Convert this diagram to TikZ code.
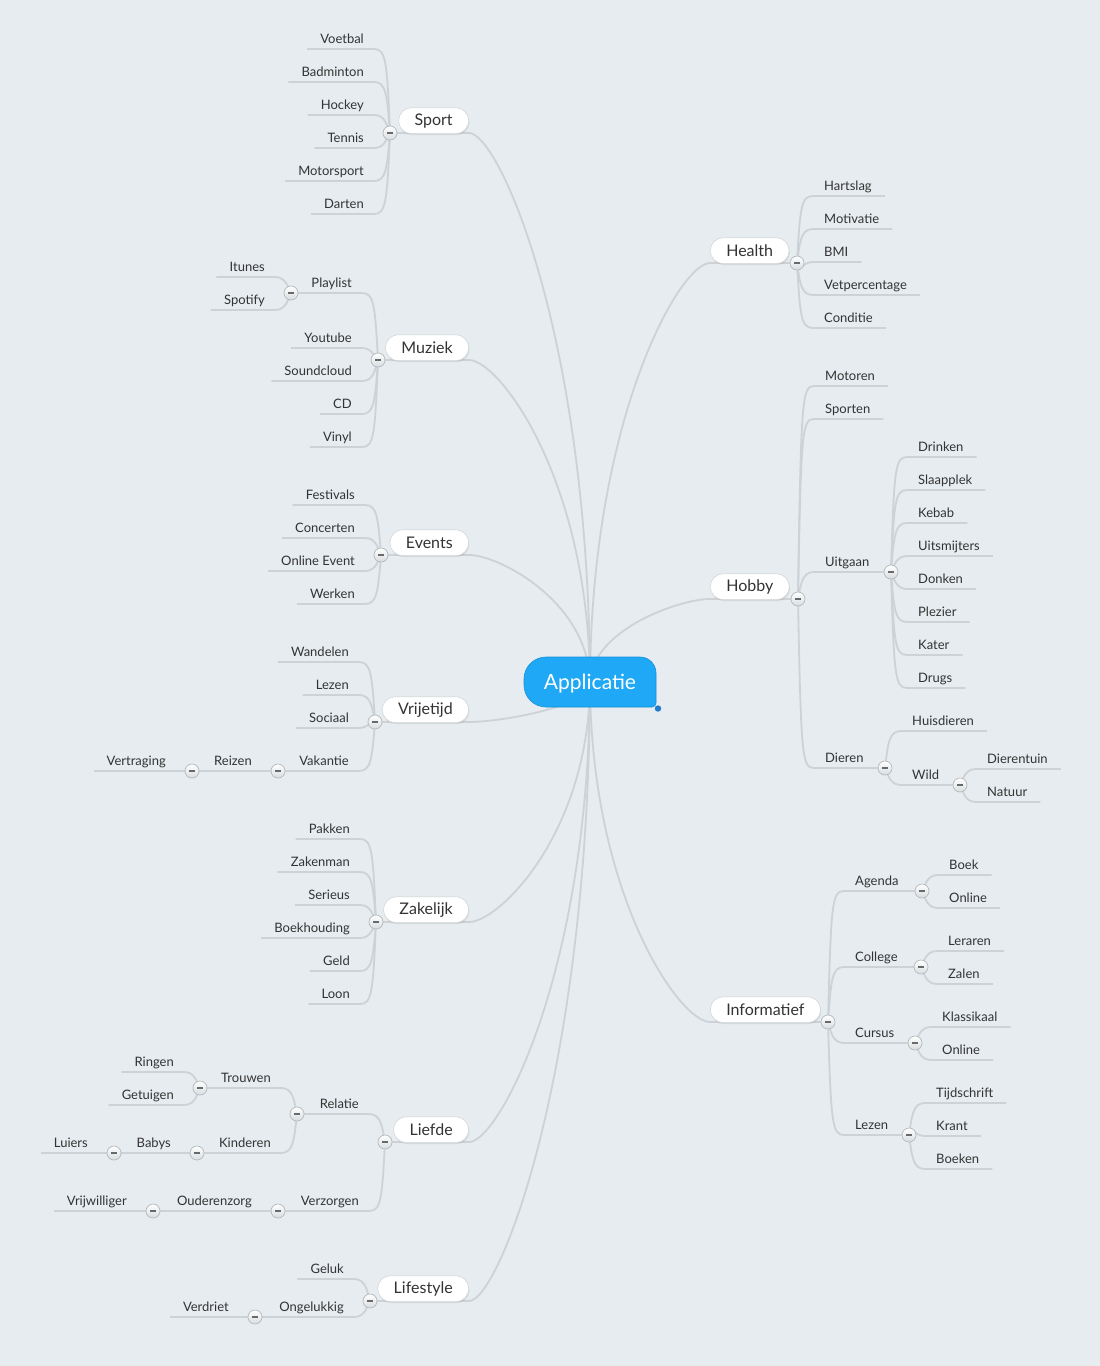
\documentclass[tikz,border=0pt]{standalone}
\usepackage{fontspec}
\setmainfont{Lato}
\usetikzlibrary{shadows}
\definecolor{bgc}{HTML}{E6ECF0}
\definecolor{linec}{HTML}{CDD2D6}
\definecolor{textc}{HTML}{333333}
\definecolor{pillb}{HTML}{D3D8DB}
\definecolor{togb}{HTML}{B4B9BD}
\definecolor{togbot}{HTML}{D8DCDF}
\definecolor{minusc}{HTML}{666A6D}
\definecolor{appblue}{HTML}{1EA8F5}
\definecolor{appedge}{HTML}{1B8FD6}
\definecolor{dotblue}{HTML}{1F7BCB}
\pgfdeclarelayer{back}
\pgfdeclarelayer{bg}
\pgfsetlayers{back,bg,main}
\newcommand\mn{\textcolor{minusc}{\rule[-0.85pt]{6pt}{1.7pt}}}
% left leaf: parent circle, px, py, name, underline y, text
\newcommand\Lk[6]{%
  \node[leaf,anchor=base east] (#4) at (#2-26,#5-6) {#6};
  \pgfmathsetmacro\cyv{#5+12*((#3>#5)-(#3<#5))}%
  \begin{pgfonlayer}{bg}
  \draw[conn] (#1.center) .. controls (#2-3,\cyv) and (#2-4,#5) .. (#2-16,#5) -- ([shift={(-13,6)}]#4.base west);
  \end{pgfonlayer}}
% left branch: + own circle x
\newcommand\Lb[7]{%
  \node[leaf,anchor=base east] (#4) at (#2-26,#5-6) {#6};
  \node[tog] (#4-c) at (#7,#5) {\mn};
  \pgfmathsetmacro\cyv{#5+12*((#3>#5)-(#3<#5))}%
  \begin{pgfonlayer}{bg}
  \draw[conn] (#1.center) .. controls (#2-3,\cyv) and (#2-4,#5) .. (#2-16,#5) -- (#4-c.center);
  \end{pgfonlayer}}
\newcommand\Rk[6]{%
  \node[leaf,anchor=base west] (#4) at (#2+27,#5-6) {#6};
  \pgfmathsetmacro\cyv{#5+12*((#3>#5)-(#3<#5))}%
  \begin{pgfonlayer}{bg}
  \draw[conn] (#1.center) .. controls (#2+3,\cyv) and (#2+4,#5) .. (#2+16,#5) -- ([shift={(13,6)}]#4.base east);
  \end{pgfonlayer}}
\newcommand\Rb[7]{%
  \node[leaf,anchor=base west] (#4) at (#2+27,#5-6) {#6};
  \node[tog] (#4-c) at (#7,#5) {\mn};
  \pgfmathsetmacro\cyv{#5+12*((#3>#5)-(#3<#5))}%
  \begin{pgfonlayer}{bg}
  \draw[conn] (#1.center) .. controls (#2+3,\cyv) and (#2+4,#5) .. (#2+16,#5) -- (#4-c.center);
  \end{pgfonlayer}}
% main nodes: name, text, circle x, circle y
\newcommand\Lm[4]{%
  \node[pill,anchor=south east] (#1) at (469,#4+1) {#2};
  \node[tog] (#1-c) at (#3,#4) {\mn};
  \pgfmathsetmacro\cyv{682+0.63*(#4-682)}%
  \begin{pgfonlayer}{bg}
  \draw[conn] (app.center) .. controls (589,\cyv) and (499,#4) .. (469,#4) -- (#1-c.center);
  \end{pgfonlayer}}
\newcommand\Rm[4]{%
  \node[pill,anchor=south west] (#1) at (710,#4+1) {#2};
  \node[tog] (#1-c) at (#3,#4) {\mn};
  \pgfmathsetmacro\cyv{682+0.63*(#4-682)}%
  \begin{pgfonlayer}{bg}
  \draw[conn] (app.center) .. controls (591,\cyv) and (680,#4) .. (710,#4) -- (#1-c.center);
  \end{pgfonlayer}}
\tikzset{
  conn/.style={draw=linec, line width=1.8pt},
  leaf/.style={font=\fontsize{13}{15}\selectfont, text=textc, inner sep=0pt},
  tog/.style={circle, minimum size=14pt, inner sep=0pt, draw=togb, line width=0.7pt, top color=white, bottom color=togbot},
  pill/.style={rounded corners=13pt, fill=white, draw=pillb, line width=0.6pt, minimum height=26pt, inner xsep=16pt, inner ysep=0pt, font=\fontsize{16}{18}\selectfont, text=textc, drop shadow={opacity=0.18, shadow xshift=0.8pt, shadow yshift=-1.5pt}},
}
\begin{document}
\begin{tikzpicture}[x=1pt,y=-1pt]
\useasboundingbox (0,0) rectangle (1100,1366);
\begin{pgfonlayer}{back}
\fill[bgc] (0,0) rectangle (1100,1366);
\end{pgfonlayer}
% central node
\fill[appblue, draw=appedge, line width=0.6pt] (546,657) -- (640,657) arc[start angle=270,end angle=360,radius=16] -- (656,703) arc[start angle=0,end angle=90,radius=4] -- (546,707) arc[start angle=90,end angle=180,radius=22] -- (524,679) arc[start angle=180,end angle=270,radius=22] -- cycle;
\fill[dotblue] (658,708.5) circle[radius=3.2];
\node[font=\fontsize{21}{24}\selectfont, text=white, inner sep=0pt, anchor=base] (app) at (590,689) {Applicatie};

% ---- Sport
\Lm{sport}{Sport}{390}{133}
\Lk{sport-c}{390}{133}{voetbal}{49}{Voetbal}
\Lk{sport-c}{390}{133}{badminton}{82}{Badminton}
\Lk{sport-c}{390}{133}{hockey}{115}{Hockey}
\Lk{sport-c}{390}{133}{tennis}{148}{Tennis}
\Lk{sport-c}{390}{133}{motorsport}{181}{Motorsport}
\Lk{sport-c}{390}{133}{darten}{214}{Darten}
% ---- Muziek
\Lm{muziek}{Muziek}{378}{360}
\Lb{muziek-c}{378}{360}{playlist}{293}{Playlist}{291}
\Lk{playlist-c}{291}{293}{itunes}{277}{Itunes}
\Lk{playlist-c}{291}{293}{spotify}{310}{Spotify}
\Lk{muziek-c}{378}{360}{youtube}{348}{Youtube}
\Lk{muziek-c}{378}{360}{soundcloud}{381}{Soundcloud}
\Lk{muziek-c}{378}{360}{cd}{414}{CD}
\Lk{muziek-c}{378}{360}{vinyl}{447}{Vinyl}
% ---- Events
\Lm{events}{Events}{381}{555}
\Lk{events-c}{381}{555}{festivals}{505}{Festivals}
\Lk{events-c}{381}{555}{concerten}{538}{Concerten}
\Lk{events-c}{381}{555}{onlineevent}{571}{Online Event}
\Lk{events-c}{381}{555}{werken}{604}{Werken}
% ---- Vrijetijd
\Lm{vrijetijd}{Vrijetijd}{375}{722}
\Lk{vrijetijd-c}{375}{722}{wandelen}{662}{Wandelen}
\Lk{vrijetijd-c}{375}{722}{lezena}{695}{Lezen}
\Lk{vrijetijd-c}{375}{722}{sociaal}{728}{Sociaal}
\Lb{vrijetijd-c}{375}{722}{vakantie}{771}{Vakantie}{278}
\Lb{vakantie-c}{278}{771}{reizen}{771}{Reizen}{192}
\Lk{reizen-c}{192}{771}{vertraging}{771}{Vertraging}
% ---- Zakelijk
\Lm{zakelijk}{Zakelijk}{376}{922}
\Lk{zakelijk-c}{376}{922}{pakken}{839}{Pakken}
\Lk{zakelijk-c}{376}{922}{zakenman}{872}{Zakenman}
\Lk{zakelijk-c}{376}{922}{serieus}{905}{Serieus}
\Lk{zakelijk-c}{376}{922}{boekhouding}{938}{Boekhouding}
\Lk{zakelijk-c}{376}{922}{geld}{971}{Geld}
\Lk{zakelijk-c}{376}{922}{loon}{1004}{Loon}
% ---- Liefde
\Lm{liefde}{Liefde}{385}{1142}
\Lb{liefde-c}{385}{1142}{relatie}{1114}{Relatie}{297}
\Lb{relatie-c}{297}{1114}{trouwen}{1088}{Trouwen}{200}
\Lk{trouwen-c}{200}{1088}{ringen}{1072}{Ringen}
\Lk{trouwen-c}{200}{1088}{getuigen}{1105}{Getuigen}
\Lb{relatie-c}{297}{1114}{kinderen}{1153}{Kinderen}{197}
\Lb{kinderen-c}{197}{1153}{babys}{1153}{Babys}{114}
\Lk{babys-c}{114}{1153}{luiers}{1153}{Luiers}
\Lb{liefde-c}{385}{1142}{verzorgen}{1211}{Verzorgen}{278}
\Lb{verzorgen-c}{278}{1211}{ouderenzorg}{1211}{Ouderenzorg}{153}
\Lk{ouderenzorg-c}{153}{1211}{vrijwilliger}{1211}{Vrijwilliger}
% ---- Lifestyle
\Lm{lifestyle}{Lifestyle}{370}{1301}
\Lk{lifestyle-c}{370}{1301}{geluk}{1279}{Geluk}
\Lb{lifestyle-c}{370}{1301}{ongelukkig}{1317}{Ongelukkig}{255}
\Lk{ongelukkig-c}{255}{1317}{verdriet}{1317}{Verdriet}
% ---- Health
\Rm{health}{Health}{797}{263}
\Rk{health-c}{797}{263}{hartslag}{196}{Hartslag}
\Rk{health-c}{797}{263}{motivatie}{229}{Motivatie}
\Rk{health-c}{797}{263}{bmi}{262}{BMI}
\Rk{health-c}{797}{263}{vetpercentage}{295}{Vetpercentage}
\Rk{health-c}{797}{263}{conditie}{328}{Conditie}
% ---- Hobby
\Rm{hobby}{Hobby}{798}{599}
\Rk{hobby-c}{798}{599}{motoren}{386}{Motoren}
\Rk{hobby-c}{798}{599}{sporten}{419}{Sporten}
\Rb{hobby-c}{798}{599}{uitgaan}{572}{Uitgaan}{891}
\Rk{uitgaan-c}{891}{572}{drinken}{457}{Drinken}
\Rk{uitgaan-c}{891}{572}{slaapplek}{490}{Slaapplek}
\Rk{uitgaan-c}{891}{572}{kebab}{523}{Kebab}
\Rk{uitgaan-c}{891}{572}{uitsmijters}{556}{Uitsmijters}
\Rk{uitgaan-c}{891}{572}{donken}{589}{Donken}
\Rk{uitgaan-c}{891}{572}{plezier}{622}{Plezier}
\Rk{uitgaan-c}{891}{572}{kater}{655}{Kater}
\Rk{uitgaan-c}{891}{572}{drugs}{688}{Drugs}
\Rb{hobby-c}{798}{599}{dieren}{768}{Dieren}{885}
\Rk{dieren-c}{885}{768}{huisdieren}{731}{Huisdieren}
\Rb{dieren-c}{885}{768}{wild}{785}{Wild}{960}
\Rk{wild-c}{960}{785}{dierentuin}{769}{Dierentuin}
\Rk{wild-c}{960}{785}{natuur}{802}{Natuur}
% ---- Informatief
\Rm{informatief}{Informatief}{828}{1022}
\Rb{informatief-c}{828}{1022}{agenda}{891}{Agenda}{922}
\Rk{agenda-c}{922}{891}{boek}{875}{Boek}
\Rk{agenda-c}{922}{891}{agonline}{908}{Online}
\Rb{informatief-c}{828}{1022}{college}{967}{College}{921}
\Rk{college-c}{921}{967}{leraren}{951}{Leraren}
\Rk{college-c}{921}{967}{zalen}{984}{Zalen}
\Rb{informatief-c}{828}{1022}{cursus}{1043}{Cursus}{915}
\Rk{cursus-c}{915}{1043}{klassikaal}{1027}{Klassikaal}
\Rk{cursus-c}{915}{1043}{cuonline}{1060}{Online}
\Rb{informatief-c}{828}{1022}{lezenb}{1135}{Lezen}{909}
\Rk{lezenb-c}{909}{1135}{tijdschrift}{1103}{Tijdschrift}
\Rk{lezenb-c}{909}{1135}{krant}{1136}{Krant}
\Rk{lezenb-c}{909}{1135}{boeken}{1169}{Boeken}
\end{tikzpicture}
\end{document}
